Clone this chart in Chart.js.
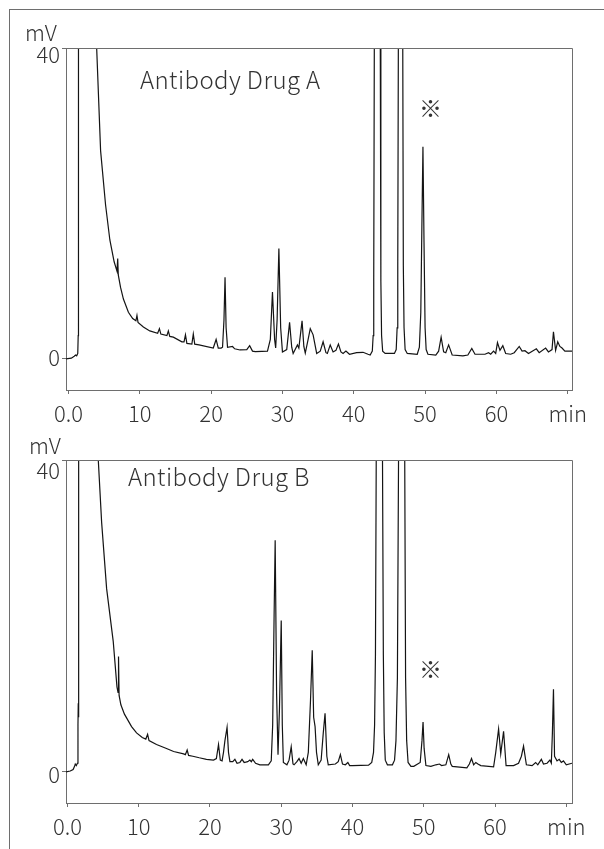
<!DOCTYPE html>
<html lang="en">
<head>
  <meta charset="UTF-8">
  <title>Antibody Drug A / B chromatograms</title>
  <script src="https://cdn.jsdelivr.net/npm/chart.js@4.4.1/dist/chart.umd.min.js"></script>
  <style>
    html, body {
      margin: 0;
      padding: 0;
      background: #fff;
      overflow: hidden;
    }

    .page {
      position: relative;
      width: 604px;
      height: 849px;
    }

    .frame {
      position: absolute;
      left: 9px;
      top: 9px;
      width: 600px;
      height: 850px;
      border-left: 1px solid #6e6e6e;
      border-top: 1px solid #6e6e6e;
    }

    canvas {
      position: absolute;
      left: 0;
    }

    .lbl {
      position: absolute;
      font-family: 'Noto Sans CJK JP', 'Noto Sans', sans-serif;
      font-weight: 300;
      color: #333;
      line-height: 1;
      white-space: nowrap;
    }

    .unit { font-size: 22px; }
    .name { font-size: 24px; letter-spacing: 0.4px; }
    .mark { font-size: 23px; }
  </style>
</head>

<body>
  <div class="page">
    <div class="frame"></div>
    <canvas id="chartA" width="604" height="425" style="top:0"></canvas>
    <canvas id="chartB" width="604" height="437" style="top:412px"></canvas>

    <div class="lbl unit" style="left:25px; top:20px">mV</div>
    <div class="lbl name" style="left:140px; top:67px">Antibody Drug A</div>
    <div class="lbl mark" style="left:419px; top:96px">※</div>

    <div class="lbl unit" style="left:29px; top:433px">mV</div>
    <div class="lbl name" style="left:128px; top:464px">Antibody Drug B</div>
    <div class="lbl mark" style="left:419px; top:657px">※</div>
  </div>

  <script>
    // retention time (min) / signal (mV)
    const timeA = [-0.4, 0.4, 0.8, 1.0, 1.15, 1.3, 1.36, 1.4, 1.6, 2.5, 3.3, 3.95, 4.5, 5.2, 5.8, 6.4, 6.8, 6.9, 6.98, 7.3,
      7.7, 8.4, 9.0, 9.45, 9.6, 9.75, 10.5, 11.4, 12.5, 12.75, 12.95, 13.8, 14.0, 14.2, 14.7, 15.9, 16.2, 16.4, 16.6, 17.3,
      17.5, 17.7, 18.3, 20.3, 20.7, 21.0, 21.4, 21.6, 21.8, 21.95, 22.1, 22.3, 23.0, 23.3, 24.05, 25.0, 25.4, 25.8, 26.2, 27.9,
      28.3, 28.6, 28.9, 29.05, 29.25, 29.5, 29.75, 30.0, 30.6, 31.0, 31.3, 31.5, 32.1, 32.3, 32.75, 33.0, 33.2, 33.6, 33.9, 34.3,
      34.8, 35.3, 35.7, 36.1, 36.3, 36.7, 37.1, 37.5, 37.85, 38.2, 38.5, 38.9, 39.4, 40.4, 41.3, 42.0, 42.3, 42.6, 42.72, 42.8,
      42.88, 43.3, 43.72, 43.8, 43.9, 44.05, 44.4, 45.7, 45.95, 46.08, 46.17, 46.25, 46.55, 46.87, 46.95, 47.05, 47.2, 47.5, 48.9, 49.2,
      49.4, 49.55, 49.7, 49.85, 50.0, 50.15, 50.4, 51.5, 51.9, 52.25, 52.6, 52.9, 53.3, 53.8, 55.3, 56.0, 56.55, 57.0, 58.4, 58.9,
      59.2, 59.6, 59.9, 60.15, 60.5, 60.9, 61.3, 62.0, 62.5, 63.2, 63.6, 64.0, 64.5, 65.6, 66.0, 66.9, 67.3, 67.8, 68.0, 68.3,
      68.6, 68.9, 69.2, 69.6, 70.6];
    const mvA = [0, 0.1, 0.35, 0.5, 0.4, 0.7, 3, 60, 400, 160, 70, 40, 26.8, 19.8, 15.3, 12.5, 11.3, 12.9, 10.8, 9.2,
      7.7, 6.0, 5.2, 4.9, 5.6, 4.7, 4.1, 3.6, 3.3, 3.9, 3.2, 3.0, 3.6, 2.9, 2.8, 2.2, 2.2, 3.1, 2.0, 1.9,
      3.2, 1.9, 1.8, 1.4, 2.5, 1.4, 1.4, 1.5, 5, 10.5, 4, 1.5, 1.6, 1.3, 1.15, 1.2, 1.7, 1.0, 0.95, 1.0,
      2.5, 8.6, 2.5, 1.4, 5, 14.2, 4, 0.9, 1.2, 4.7, 1.5, 0.7, 1.8, 1.4, 4.9, 1.6, 0.75, 2.5, 3.9, 3.1,
      0.7, 1.0, 2.2, 0.8, 0.7, 1.8, 0.9, 1.1, 1.9, 0.9, 0.7, 1.0, 0.6, 0.8, 0.85, 0.6, 0.5, 1.0, 3, 10,
      40, 400, 40, 10, 3, 1.0, 0.7, 0.7, 1.2, 4, 12, 40, 400, 40, 12, 4, 1.2, 0.7, 0.6, 1.5,
      6, 17, 27.3, 15, 4, 1.2, 0.6, 0.5, 1.0, 2.8, 0.9, 0.8, 1.8, 0.5, 0.4, 0.5, 1.35, 0.6, 0.6, 0.8,
      0.6, 1.0, 0.7, 2.1, 1.1, 1.7, 0.7, 0.6, 0.8, 1.6, 1.0, 1.05, 0.7, 1.3, 0.8, 1.4, 0.9, 1.2, 3.5, 1.1,
      2.2, 1.6, 1.4, 1.0, 1.0];

    const timeB = [-0.2, 0.4, 0.8, 1.0, 1.1, 1.25, 1.4, 1.48, 1.52, 1.55, 1.6, 1.8, 2.8, 3.6, 4.33, 4.8, 5.5, 6.43, 6.95, 7.1,
      7.17, 7.25, 7.5, 8.0, 8.5, 9.0, 9.7, 10.5, 11.0, 11.25, 11.45, 12.5, 13.9, 14.9, 16.3, 16.55, 16.8, 17.0, 17.6, 18.5,
      19.5, 20.5, 20.9, 21.2, 21.45, 21.7, 21.9, 22.1, 22.4, 22.6, 22.8, 23.2, 23.5, 23.8, 24.2, 24.5, 24.8, 25.3, 25.6, 25.8,
      26.0, 26.4, 27.0, 28.2, 28.6, 28.8, 29.0, 29.15, 29.35, 29.55, 29.75, 30.0, 30.15, 30.3, 30.8, 31.1, 31.4, 31.65, 31.8, 32.2,
      32.5, 32.8, 33.1, 33.5, 33.8, 34.1, 34.35, 34.55, 34.75, 34.95, 35.2, 35.6, 35.9, 36.15, 36.4, 36.6, 37.6, 38.0, 38.3, 38.6,
      39.0, 39.35, 39.6, 40.0, 42.25, 42.7, 42.95, 43.1, 43.22, 43.33, 43.77, 44.21, 44.33, 44.45, 44.6, 44.9, 45.6, 45.9, 46.1, 46.3,
      46.46, 46.9, 47.33, 47.45, 47.6, 47.8, 48.2, 48.6, 49.5, 49.75, 49.9, 50.05, 50.3, 51.0, 51.7, 52.2, 52.5, 53.1, 53.5, 53.8,
      54.0, 56.05, 56.4, 56.7, 57.0, 57.3, 57.6, 58.0, 59.8, 60.1, 60.5, 60.8, 61.2, 61.55, 62.6, 63.3, 63.7, 64.0, 64.4, 65.2,
      65.7, 66.0, 66.5, 66.8, 67.3, 67.7, 67.9, 68.05, 68.2, 68.35, 68.7, 69.0, 69.3, 69.6, 70.0, 70.8];
    const mvB = [0, 0.1, 0.3, 0.7, 1.0, 0.8, 1.1, 6, 8.8, 7, 60, 400, 160, 70, 40, 32, 23.5, 16.7, 10.9, 10.2,
      14.8, 9.8, 8.6, 7.4, 6.6, 5.8, 5.0, 4.4, 4.2, 4.8, 4.0, 3.5, 3.0, 2.6, 2.3, 2.2, 2.8, 2.1, 2.0, 1.8,
      1.6, 1.5, 1.7, 3.5, 1.5, 1.4, 2.5, 4, 5.7, 2.5, 1.3, 1.3, 1.6, 1.1, 1.2, 1.6, 1.2, 1.3, 1.5, 1.3,
      1.6, 1.1, 0.9, 0.9, 1.4, 6, 20, 29.7, 10, 2.2, 8, 19.4, 6, 1.2, 0.9, 1.5, 3.2, 1.0, 0.9, 1.3,
      1.7, 1.1, 1.7, 0.9, 2.5, 9, 15.6, 7, 5.8, 2.5, 0.9, 1.5, 5, 7.5, 2, 0.9, 1.0, 1.3, 2.2, 1.0,
      0.9, 1.2, 0.8, 0.8, 0.85, 1.2, 2.5, 6, 15, 40, 400, 40, 15, 5, 1.5, 0.9, 0.9, 1.5, 4, 12,
      40, 400, 40, 12, 4, 1.2, 0.7, 0.7, 1.2, 4, 6.4, 3, 0.8, 0.7, 0.9, 1.0, 0.8, 0.9, 2.2, 1.0,
      0.7, 0.5, 1.0, 1.7, 0.9, 1.2, 1.0, 0.8, 0.65, 2.5, 5.5, 2.3, 5.2, 0.8, 0.8, 1.1, 2.0, 3.3, 0.9, 0.8,
      1.2, 0.9, 1.6, 1.0, 1.1, 1.5, 1.1, 5, 10.6, 2, 1.4, 1.6, 1.2, 1.4, 0.9, 1.1];

    const xTickValues = [0, 10, 20, 30, 40, 50, 60, 70];
    const xTickLabels = ['0.0', '10', '20', '30', '40', '50', '60', 'min'];
    const yTickValues = [0, 40];
    const yTickLabels = ['0', '40'];

    const axisColor = '#6e6e6e';
    const tickFont = { family: "'Noto Sans CJK JP', 'Noto Sans', sans-serif", size: 22, weight: '300' };

    // top + right edges of the plot box
    const boxPlugin = {
      id: 'box',
      afterDraw(chart) {
        const a = chart.chartArea;
        const c = chart.ctx;
        c.save();
        c.strokeStyle = axisColor;
        c.lineWidth = 1;
        c.beginPath();
        c.moveTo(Math.round(a.left) + 0.5, Math.round(a.top) + 0.5);
        c.lineTo(Math.round(a.right) + 0.5, Math.round(a.top) + 0.5);
        c.lineTo(Math.round(a.right) + 0.5, Math.round(a.bottom) + 0.5);
        c.stroke();
        c.restore();
      }
    };

    function makePanel(id, times, values, xMin, xMax, padBottom, yLabelOffset) {
      return new Chart(document.getElementById(id), {
        type: 'line',
        data: {
          datasets: [{
            data: times.map((t, i) => ({ x: t, y: values[i] })),
            borderColor: '#141414',
            borderWidth: 1.2,
            pointRadius: 0,
            tension: 0,
            clip: 0
          }]
        },
        options: {
          responsive: false,
          animation: false,
          devicePixelRatio: 1,
          layout: { padding: { left: 0, top: 48, right: 32, bottom: padBottom } },
          plugins: { legend: { display: false }, tooltip: { enabled: false } },
          scales: {
            x: {
              type: 'linear',
              min: xMin,
              max: xMax,
              afterFit(scale) { scale.height = 35; },
              afterBuildTicks(scale) { scale.ticks = xTickValues.map(v => ({ value: v })); },
              border: { display: true, color: axisColor, width: 1 },
              grid: { drawOnChartArea: false, drawTicks: true, tickLength: 4, color: axisColor },
              ticks: {
                font: tickFont,
                color: '#333',
                padding: 6,
                maxRotation: 0,
                autoSkip: false,
                callback: (v) => xTickLabels[xTickValues.indexOf(v)]
              }
            },
            y: {
              min: -4,
              max: 40,
              afterFit(scale) { scale.width = 66; },
              afterBuildTicks(scale) { scale.ticks = yTickValues.map(v => ({ value: v })); },
              border: { display: true, color: axisColor, width: 1 },
              grid: { drawOnChartArea: false, drawTicks: true, tickLength: 4, color: axisColor },
              ticks: {
                font: Object.assign({}, tickFont, { lineHeight: 0.68 }),
                color: '#333',
                padding: 2,
                labelOffset: yLabelOffset,
                autoSkip: false,
                // the top label sits a little under its tick in the original, so push it down one half line
                callback: (v) => {
                  const s = yTickLabels[yTickValues.indexOf(v)];
                  return v === 40 ? ['', s] : s;
                }
              }
            }
          }
        },
        plugins: [boxPlugin]
      });
    }

    makePanel('chartA', timeA, mvA, -0.35, 70.6, 0, -1);
    makePanel('chartB', timeB, mvB, -0.2, 70.8, 11, 3);
  </script>
</body>

</html>
